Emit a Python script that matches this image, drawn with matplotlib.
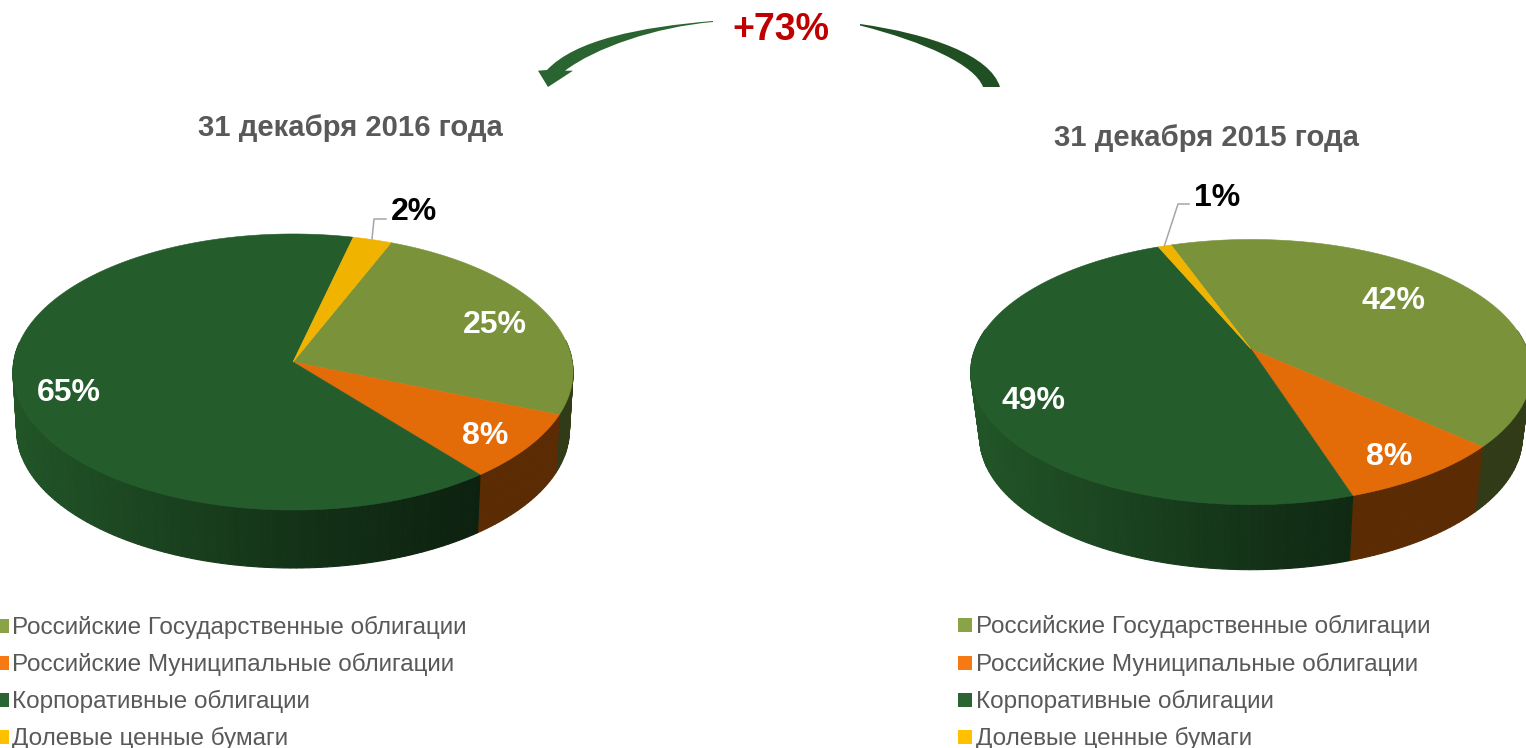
import numpy as np
import matplotlib
matplotlib.use('Agg')
import matplotlib.pyplot as plt
from matplotlib.patches import PathPatch, Rectangle
from matplotlib.path import Path

plt.rcParams['font.family'] = ['Liberation Sans', 'DejaVu Sans']

categories = ['Российские Государственные облигации',
              'Российские Муниципальные облигации',
              'Корпоративные облигации',
              'Долевые ценные бумаги']
values_2016 = [25, 8, 64.6, 2.4]
values_2015 = [42.2, 8.3, 48.6, 0.9]
title_2016 = '31 декабря 2016 года'
title_2015 = '31 декабря 2015 года'
change_label = '+73%'

top_colors = ['#7a933b', '#e36c09', '#245c2b', '#f0b400']
legend_colors = ['#8aa347', '#f57a14', '#2b6433', '#ffc000']
GRAY = '#595959'
LEADER = '#a6a6a6'


def rim(angle, geo):
    # point on the pie edge, the disc is seen in perspective
    t = np.radians(angle)
    u, v = np.cos(t), np.sin(t)
    w = 1 + geo['k'] * v
    return geo['x'] + geo['sx'] * u / w, geo['y'] - geo['sy'] * v / w


def wall_shade(x, geo):
    f = (x - (geo['x'] - geo['sx'])) / (2 * geo['sx'])
    return np.interp(f, [0, 0.5, 0.83, 1], [0.92, 0.55, 0.36, 0.36])


def draw_pie(ax, values, geo):
    values = np.array(values, dtype=float)
    edges = geo['start'] - np.concatenate([[0], np.cumsum(values)]) * 3.6

    # side wall first, thin strips from back to front
    for i, val in enumerate(values):
        steps = max(int(val * 3), 3)
        ang = np.linspace(edges[i], edges[i + 1], steps + 1)
        base = np.array(matplotlib.colors.to_rgb(top_colors[i]))
        for a0, a1 in zip(ang[:-1], ang[1:]):
            if np.sin(np.radians((a0 + a1) / 2)) > 0.15:
                continue
            x0, y0 = rim(a0, geo)
            x1, y1 = rim(a1, geo)
            bx0 = geo['x'] + (x0 - geo['x']) * geo['wall_sx']
            bx1 = geo['x'] + (x1 - geo['x']) * geo['wall_sx']
            by0, by1 = y0 + geo['depth'], y1 + geo['depth']
            if i == 2:
                col = base * wall_shade((x0 + x1) / 2, geo)
            else:
                col = base * 0.40
            ax.fill([x0, x1, bx1, bx0], [y0, y1, by1, by0], color=col, lw=0.8, zorder=2)

    # top face
    for i, val in enumerate(values):
        ang = np.linspace(edges[i], edges[i + 1], int(val * 6) + 3)
        xs, ys = rim(ang, geo)
        ax.fill(np.r_[geo['x'], xs], np.r_[geo['y'], ys], color=top_colors[i], lw=0.4, zorder=3)


def swoosh(ax, verts, codes, color):
    ax.add_patch(PathPatch(Path(verts, codes), facecolor=color, edgecolor='none', zorder=4))


fig = plt.figure(figsize=(15.26, 7.48), dpi=100)
ax = fig.add_axes([0, 0, 1, 1])
ax.set_xlim(0, 1526)
ax.set_ylim(748, 0)
ax.axis('off')

geo_2016 = dict(x=293, y=362, sx=279.3, sy=137.3, k=0.0724, start=68, depth=58, wall_sx=0.987)
geo_2015 = dict(x=1251, y=349, sx=276, sy=128.6, k=0.174, start=109.7, depth=65, wall_sx=0.968)
draw_pie(ax, values_2016, geo_2016)
draw_pie(ax, values_2015, geo_2015)

# titles and change label
ax.text(350, 128, title_2016, ha='center', va='center', fontsize=21.1, fontweight='bold', color=GRAY)
ax.text(1206, 138, title_2015, ha='center', va='center', fontsize=21.1, fontweight='bold', color=GRAY)
ax.text(781, 30, change_label, ha='center', va='center', fontsize=27, fontweight='bold', color='#c00000')

# slice labels
label_pos_2016 = [(495, 325), (485, 436), (69, 393), (414, 212)]
label_pos_2015 = [(1393, 301), (1389, 457), (1033, 401), (1217, 198)]
for vals, positions in ((values_2016, label_pos_2016), (values_2015, label_pos_2015)):
    for i, (val, (lx, ly)) in enumerate(zip(vals, positions)):
        ax.text(lx, ly, '%d%%' % round(val), ha='center', va='center', fontsize=23, fontweight='bold',
                color='black' if i == 3 else 'white', zorder=5)

# leader lines of the small slices
ax.plot([372, 374, 386], [239, 219, 219], color=LEADER, lw=1.1, zorder=2.5)
ax.plot([1164, 1178, 1189], [247, 204, 204], color=LEADER, lw=1.1, zorder=2.5)

# curved arrows
C, L, M = Path.CURVE4, Path.LINETO, Path.MOVETO
swoosh(ax,
       [(713, 21), (640, 27), (575, 40), (547, 70), (538, 70.7), (548, 87), (573, 70.7), (565, 70.7),
        (595, 48), (655, 27), (713, 22), (713, 21)],
       [M, C, C, C, L, L, L, L, C, C, C, L], '#2a6430')
swoosh(ax,
       [(860, 24), (930, 34), (990, 55), (1000, 87), (983, 87), (975, 65), (925, 42), (860, 25.5), (860, 24)],
       [M, C, C, C, L, C, C, C, L], '#1f4f22')

# legends
legend_y_2016 = [627, 664, 701, 738]
legend_y_2015 = [626, 664, 701, 738]
for x0, ys in ((-5, legend_y_2016), (958, legend_y_2015)):
    for name, col, y in zip(categories, legend_colors, ys):
        ax.add_patch(Rectangle((x0, y - 8), 14, 14, facecolor=col, edgecolor='none'))
        ax.text(x0 + 17.5, y, name, ha='left', va='center', fontsize=17.5, color=GRAY)

fig.savefig('out.png', dpi=100)
